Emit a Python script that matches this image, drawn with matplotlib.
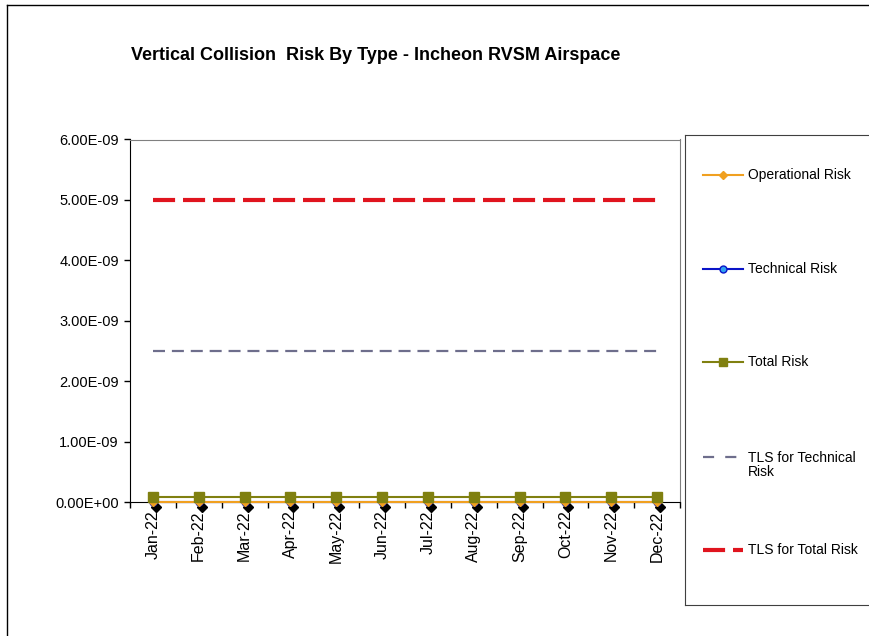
import numpy as np
import matplotlib
matplotlib.use("Agg")
import matplotlib.pyplot as plt
import matplotlib.transforms as mtransforms
from matplotlib.lines import Line2D
from matplotlib.ticker import FuncFormatter, FixedLocator

plt.rcParams['font.family'] = ['Liberation Sans', 'DejaVu Sans']

# datos mensuales 2022
meses = ['Jan-22', 'Feb-22', 'Mar-22', 'Apr-22', 'May-22', 'Jun-22',
         'Jul-22', 'Aug-22', 'Sep-22', 'Oct-22', 'Nov-22', 'Dec-22']
riesgo_operacional = [2.0e-12] * 12
riesgo_tecnico = [1.0e-14] * 12
riesgo_total = [9.0e-11] * 12
tls_tecnico = [2.5e-9] * 12
tls_total = [5.0e-9] * 12

x = np.arange(len(meses))

# estilos de cada serie (se usan tambien en la leyenda)
est_oper = dict(color='#f0a020', lw=1.5, marker='D', ms=4, mfc='#f0a020', mec='#f0a020')
est_tec = dict(color='#0a14c8', lw=1.5, marker='o', ms=5, mfc='#30a0f0', mec='#0a14c8')
est_total = dict(color='#808010', lw=1.5, marker='s', ms=7, mfc='#808010', mec='#808010')
est_tls_tec = dict(color='#6e6e8c', lw=1.6, dashes=(5.4, 3.1))
est_tls_total = dict(color='#e0141e', lw=3, dashes=(5.3, 1.9))

fig = plt.figure(figsize=(8.7, 6.36), dpi=100)
ax = fig.add_axes([130/870, 1 - 502/636, 550/870, (502 - 139.5)/636])

# sombra negra de los marcadores (estilo Excel)
sombra = mtransforms.offset_copy(ax.transData, fig=fig, x=3, y=-5, units='dots')
ax.plot(x, riesgo_operacional, 'D', color='black', ms=5, transform=sombra,
        zorder=2, clip_on=False)

ax.plot(x, tls_total, zorder=3, **est_tls_total)
ax.plot(x, tls_tecnico, zorder=3, **est_tls_tec)
ax.plot(x, riesgo_tecnico, zorder=3, clip_on=False, **est_tec)
ax.plot(x, riesgo_operacional, zorder=4, clip_on=False, **est_oper)
ax.plot(x, riesgo_total, zorder=5, clip_on=False, **est_total)

ax.set_xlim(-0.5, len(meses) - 0.5)
ax.set_ylim(0, 6e-9)
ax.set_yticks(np.arange(0, 6.01e-9, 1e-9))
ax.yaxis.set_major_formatter(FuncFormatter(lambda v, p: f"{v:.2E}"))
ax.set_xticks(x)
ax.set_xticklabels(meses, rotation=90, fontsize=11.5)
ax.xaxis.set_minor_locator(FixedLocator(np.arange(-0.5, len(meses), 1)))
ax.tick_params(axis='x', which='major', length=0, pad=6)
ax.tick_params(axis='x', which='minor', length=4, direction='out', width=1)
ax.tick_params(axis='y', length=4, width=1, labelsize=10.5, pad=4)

ax.spines['left'].set_color('black')
ax.spines['bottom'].set_color('black')
ax.spines['top'].set_color('#808080')
ax.spines['right'].set_color('#808080')

fig.text(376/870, 1 - 56/636, 'Vertical Collision  Risk By Type - Incheon RVSM Airspace',
         ha='center', va='center', fontsize=13, fontweight='bold')

# marco exterior del grafico
fig.add_artist(Line2D([7/870, 7/870], [0, 1 - 5/636], color='black', lw=1))
fig.add_artist(Line2D([7/870, 1], [1 - 5/636, 1 - 5/636], color='black', lw=1))

# leyenda dibujada a mano en su propio cuadro
lax = fig.add_axes([685/870, 1 - 605/636, 190/870, (605 - 135)/636])
lax.set_xlim(685, 875)
lax.set_ylim(605, 135)
lax.set_xticks([])
lax.set_yticks([])
for s in ['left', 'top', 'bottom']:
    lax.spines[s].set_color('#404040')
lax.spines['right'].set_visible(False)

entradas = [
    ('Operational Risk', 175, est_oper),
    ('Technical Risk', 269, est_tec),
    ('Total Risk', 362, est_total),
    ('TLS for Technical\nRisk', 457, dict(est_tls_tec, dashes=(5.0, 5.0))),
    ('TLS for Total Risk', 550, est_tls_total),
]
for texto, yy, estilo in entradas:
    estilo = dict(estilo)
    if 'ms' in estilo:
        estilo['ms'] = min(estilo['ms'], 6)
    linea = Line2D([703, 723, 743], [yy, yy, yy], markevery=[1], **estilo)
    lax.add_line(linea)
    lax.text(748, yy + (8 if '\n' in texto else 0), texto, va='center', ha='left',
             fontsize=10, linespacing=1.0)

fig.savefig('out.png', dpi=100)
